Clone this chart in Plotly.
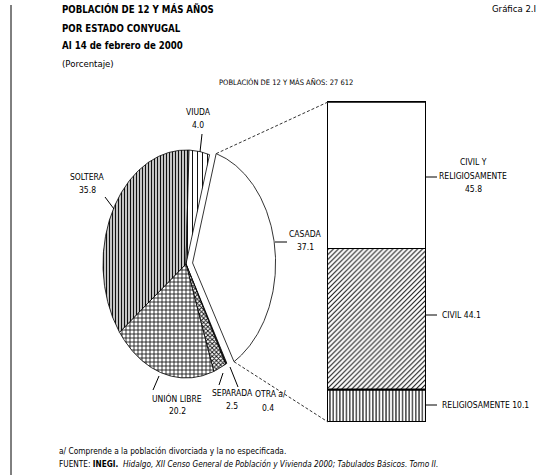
import numpy as np
import plotly.graph_objects as go

# ---- data -------------------------------------------------------------
estado = ["CASADA", "OTRA a/", "SEPARADA", "UNIÓN LIBRE", "SOLTERA", "VIUDA"]
porcentaje = [37.1, 0.4, 2.5, 20.2, 35.8, 4.0]

casada_tipo = ["RELIGIOSAMENTE", "CIVIL", "CIVIL Y RELIGIOSAMENTE"]
casada_pct = [10.1, 44.1, 45.8]

poblacion_total = "27 612"

# ---- page geometry (pixels) -----------------------------------------------
W, H = 541, 475
CX, CY = 186, 264          # pie centre
RX, RY = 83, 114           # pie radii (x, y)
START = 16.5               # first slice starts here, degrees clockwise from 12 o'clock
EXPLODE = 0.08             # pull-out of the CASADA slice (pie units)
BAR_X0, BAR_X1 = 328, 426
BAR_Y0, BAR_Y1 = 102, 422  # top, bottom
PAD = 3                    # room around the bar so its outline is not clipped

FONT = "Liberation Sans Narrow, Arial Narrow, DejaVu Sans Condensed, sans-serif"


def px(x):
    return x / W


def py(y):
    return 1 - y / H


def pie_to_page(ux, uy):
    return CX + RX * ux, CY - RY * uy


slice_style = {
    "CASADA": dict(fillcolor="white", pattern=None),
    "OTRA a/": dict(fillcolor="#222222", pattern=None),
    "SEPARADA": dict(fillcolor="white", pattern=dict(shape="x", size=3, solidity=0.5)),
    "UNIÓN LIBRE": dict(fillcolor="white", pattern=dict(shape="+", size=4, solidity=0.38)),
    "SOLTERA": dict(fillcolor="white", pattern=dict(shape="|", size=3, solidity=0.5)),
    "VIUDA": dict(fillcolor="white", pattern=dict(shape="|", size=5, solidity=0.2)),
}

fig = go.Figure()

# ---- pie slices, drawn as filled polygons on a unit-circle axis -----------
edges = {}
a = START
for name, val in zip(estado, porcentaje):
    a0, a1 = a, a + val * 3.6
    a = a1
    mid = np.radians((a0 + a1) / 2)
    off = EXPLODE if name == "CASADA" else 0.0
    ox, oy = off * np.sin(mid), off * np.cos(mid)
    th = np.radians(np.linspace(a0, a1, max(4, int(val * 6))))
    xs = np.concatenate([[ox], ox + np.sin(th), [ox]])
    ys = np.concatenate([[oy], oy + np.cos(th), [oy]])
    edges[name] = (xs[1], ys[1], xs[-2], ys[-2])
    st = slice_style[name]
    kw = {}
    if st["pattern"]:
        kw["fillpattern"] = dict(fgcolor="#111111", bgcolor="white",
                                 fillmode="replace", **st["pattern"])
    fig.add_trace(go.Scatter(
        x=xs, y=ys, mode="lines", fill="toself",
        fillcolor=st["fillcolor"], line=dict(color="black", width=0.8),
        hoverinfo="skip", showlegend=False, xaxis="x", yaxis="y", **kw))

# ---- stacked bar breaking down CASADA -------------------------------------
bar_style = {
    "RELIGIOSAMENTE": dict(shape="|", size=3.3, solidity=0.35),
    "CIVIL": dict(shape="/", size=3.5, solidity=0.3),
    "CIVIL Y RELIGIOSAMENTE": dict(shape="", size=4, solidity=0.3),
}
for name, val in zip(casada_tipo, casada_pct):
    fig.add_trace(go.Bar(
        x=[0], y=[val], width=1, xaxis="x2", yaxis="y2",
        marker=dict(color="white", line=dict(color="black", width=1),
                    pattern=dict(fgcolor="#111111", bgcolor="white",
                                 fillmode="replace", **bar_style[name])),
        hoverinfo="skip", showlegend=False))

shapes = []
annotations = []


def text(x, y, s, size=8.5, anchor="center", bold=False, color="black"):
    if bold:
        s = f"<b>{s}</b>"
    annotations.append(dict(
        x=px(x), y=py(y), xref="paper", yref="paper", text=s, showarrow=False,
        xanchor=anchor, yanchor="middle",
        font=dict(family=FONT, size=size, color=color)))


def seg(x0, y0, x1, y1, width=1, dash=None, color="black"):
    shapes.append(dict(type="line", xref="paper", yref="paper",
                       x0=px(x0), y0=py(y0), x1=px(x1), y1=py(y1),
                       line=dict(color=color, width=width, dash=dash)))


# thick divider between RELIGIOSAMENTE and CIVIL
shapes.append(dict(type="line", xref="x2", yref="y2", x0=-0.5, x1=0.5,
                   y0=casada_pct[0], y1=casada_pct[0],
                   line=dict(color="black", width=2.2)))
# heavier top edge of the bar
shapes.append(dict(type="line", xref="x2", yref="y2", x0=-0.5, x1=0.5,
                   y0=sum(casada_pct), y1=sum(casada_pct),
                   line=dict(color="black", width=1.5)))

# dashed connectors from the pulled-out slice to the bar
sx0, sy0, sx1, sy1 = edges["CASADA"]
tx, ty = pie_to_page(sx0, sy0)
bx, by = pie_to_page(sx1, sy1)
seg(tx, ty, BAR_X0, BAR_Y0, width=1, dash="3px,2px", color="#333333")
seg(bx, by, BAR_X0, BAR_Y1, width=1, dash="3px,2px", color="#333333")

# left rule
seg(11, 5, 11, H, width=1)

# ---- titles ----------------------------------------------------------------
text(60, 9, "POBLACIÓN DE 12 Y MÁS AÑOS", size=9.6, anchor="left", bold=True)
text(60, 28, "POR ESTADO CONYUGAL", size=9.6, anchor="left", bold=True)
text(60, 46, "Al 14 de febrero de 2000", size=9.6, anchor="left", bold=True)
text(60, 63, "(Porcentaje)", size=9.5, anchor="left")
text(538, 9, "Gráfica 2.I", size=9.5, anchor="right")
text(286, 82, f"POBLACIÓN DE 12 Y MÁS AÑOS: {poblacion_total}", size=7.5)

# ---- slice labels ----------------------------------------------------------
val = dict(zip(estado, porcentaje))
text(198, 112, "VIUDA")
text(198, 125, f"{val['VIUDA']:.1f}")
seg(202, 134, 200, 152)

text(87, 177, "SOLTERA")
text(87, 190, f"{val['SOLTERA']:.1f}")
seg(105, 197, 114, 209)

text(305, 234, "CASADA")
text(305, 247, f"{val['CASADA']:.1f}")
seg(275, 242, 287, 242)

text(177, 398, "UNIÓN LIBRE")
text(177, 411, f"{val['UNIÓN LIBRE']:.1f}")
seg(159, 376, 153, 390)

text(232, 393, "SEPARADA")
text(232, 406, f"{val['SEPARADA']:.1f}")
seg(223, 373, 219, 385)

text(270, 394, "OTRA a/")
text(268, 408, f"{val['OTRA a/']:.1f}")
seg(230, 367, 238, 387)

# ---- bar labels --------------------------------------------------------------
cval = dict(zip(casada_tipo, casada_pct))
text(473, 162, "CIVIL Y")
text(473, 176, "RELIGIOSAMENTE")
text(473, 189, f"{cval['CIVIL Y RELIGIOSAMENTE']:.1f}")
seg(BAR_X1, 177, 437, 177)

text(440, 315, f"CIVIL {cval['CIVIL']:.1f}", anchor="left")
seg(BAR_X1, 315, 437, 315)

text(440, 405, f"RELIGIOSAMENTE {cval['RELIGIOSAMENTE']:.1f}", anchor="left")
seg(BAR_X1, 405, 437, 405)

# ---- footnotes -----------------------------------------------------------------
text(57, 451, "a/ Comprende a la población divorciada y la no especificada.",
     size=8.3, anchor="left")
text(57, 464, "FUENTE: <b>INEGI.</b>  <i>Hidalgo, XII Censo General de Población y "
     "Vivienda 2000; Tabulados Básicos. Tomo II.</i>", size=8.2, anchor="left")

# bar axes get a few pixels of padding so the outline stays inside the plot area
bw, bh = BAR_X1 - BAR_X0, BAR_Y1 - BAR_Y0
xpad = PAD / bw
ypad = PAD / bh * 100

fig.update_layout(
    width=W, height=H, margin=dict(l=0, r=0, t=0, b=0),
    paper_bgcolor="white", plot_bgcolor="rgba(0,0,0,0)",
    barmode="stack", bargap=0,
    xaxis=dict(domain=[0, 1], range=[-CX / RX, (W - CX) / RX],
               visible=False, fixedrange=True),
    yaxis=dict(domain=[0, 1], range=[(CY - H) / RY, CY / RY],
               visible=False, fixedrange=True),
    xaxis2=dict(domain=[px(BAR_X0 - PAD), px(BAR_X1 + PAD)],
                range=[-0.5 - xpad, 0.5 + xpad],
                visible=False, anchor="y2", fixedrange=True),
    yaxis2=dict(domain=[py(BAR_Y1 + PAD), py(BAR_Y0 - PAD)],
                range=[-ypad, 100 + ypad],
                visible=False, anchor="x2", fixedrange=True),
    shapes=shapes, annotations=annotations,
)

fig.write_html("out.html")
